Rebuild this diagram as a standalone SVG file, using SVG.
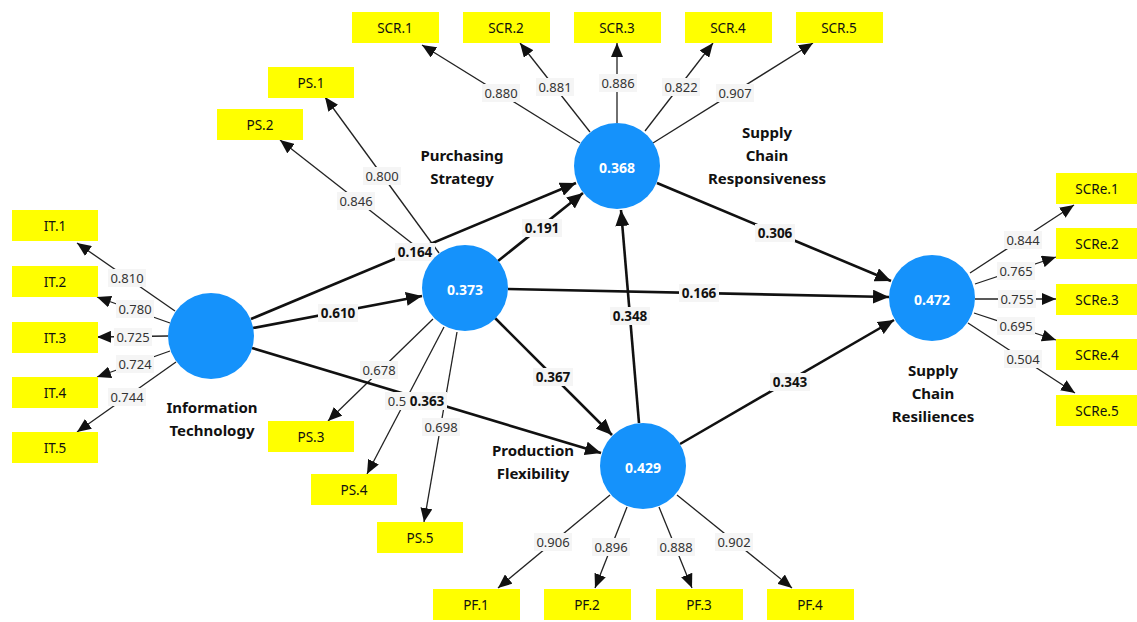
<svg xmlns="http://www.w3.org/2000/svg" width="1137" height="622" viewBox="0 0 1137 622">
<style>
.bg{fill:#ffffff}
.ind rect{fill:#ffff00}
.ind text{font-family:"Noto Sans","Open Sans",sans-serif;font-size:13.5px;fill:#111;text-anchor:middle;dominant-baseline:central}
.lv circle{fill:#1592fb}
.lv .v{font-family:"Noto Sans","Open Sans",sans-serif;font-size:14px;font-weight:bold;fill:#fff;text-anchor:middle;dominant-baseline:central}
.lv .n{font-family:"Noto Sans","Open Sans",sans-serif;font-size:15px;font-weight:bold;fill:#111;text-anchor:middle;dominant-baseline:central}
.out{stroke:#222;stroke-width:1.3;fill:none;marker-end:url(#ah)}
.inn{stroke:#111;stroke-width:2.6;fill:none;marker-end:url(#ahb)}
.lb rect{fill:#f5f5f5}
.lb text{font-family:"Noto Sans","Open Sans",sans-serif;font-size:13px;fill:#333;text-anchor:middle;dominant-baseline:central}
.lbb rect{fill:#f5f5f5}
.lbb text{font-family:"Noto Sans","Open Sans",sans-serif;font-size:13.5px;font-weight:bold;fill:#111;text-anchor:middle;dominant-baseline:central}
</style>
<defs>
<marker id="ah" markerUnits="userSpaceOnUse" markerWidth="14" markerHeight="12" viewBox="0 0 14 12" refX="14" refY="6" orient="auto"><path d="M0,0 L14,6 L0,12 Z" fill="#111"/></marker>
<marker id="ahb" markerUnits="userSpaceOnUse" markerWidth="16" markerHeight="14" viewBox="0 0 16 14" refX="16" refY="7" orient="auto"><path d="M0,0 L16,7 L0,14 Z" fill="#111"/></marker>
</defs>
<rect class="bg" x="0" y="0" width="1137" height="622"/>

<g id="connectors">
<path class="out" d="M175,311 L77,243"/>
<path class="out" d="M170,323 L97,297"/>
<path class="out" d="M168,336 L97,337"/>
<path class="out" d="M170,351 L97,377"/>
<path class="out" d="M176,362 L77,432"/>
<path class="out" d="M580,143 L422,45"/>
<path class="out" d="M590,132 L520,43"/>
<path class="out" d="M617,123 L617,43"/>
<path class="out" d="M645,131 L713,43"/>
<path class="out" d="M653,143 L813,43"/>
<path class="out" d="M439,253 L325,97"/>
<path class="out" d="M432,259 L280,140"/>
<path class="out" d="M433,319 L328,421"/>
<path class="out" d="M444,327 L367,474"/>
<path class="out" d="M457,332 L424,522"/>
<path class="out" d="M610,495 L498,588"/>
<path class="out" d="M627,507 L595,588"/>
<path class="out" d="M659,507 L692,588"/>
<path class="out" d="M677,495 L792,588"/>
<path class="out" d="M970,273 L1074,205"/>
<path class="out" d="M975,284 L1056,257"/>
<path class="out" d="M975,299 L1056,299"/>
<path class="out" d="M974,313 L1056,340"/>
<path class="out" d="M968,323 L1075,393"/>
<path class="inn" d="M251,319 L576,183"/>
<path class="inn" d="M253,328 L422,296"/>
<path class="inn" d="M252,348 L601,453"/>
<path class="inn" d="M498,261 L583,193"/>
<path class="inn" d="M508,289 L889,297"/>
<path class="inn" d="M495,318 L612,435"/>
<path class="inn" d="M639,423 L621,210"/>
<path class="inn" d="M657,183 L891,281"/>
<path class="inn" d="M680,444 L894,320"/>
</g>

<g id="loadings">
<g class="lb"><rect x="108" y="269" width="38" height="18"/><text x="127" y="278">0.810</text></g>
<g class="lb"><rect x="116" y="300" width="38" height="18"/><text x="135" y="309">0.780</text></g>
<g class="lb"><rect x="114" y="328" width="38" height="18"/><text x="133" y="337">0.725</text></g>
<g class="lb"><rect x="116" y="355" width="38" height="18"/><text x="135" y="364">0.724</text></g>
<g class="lb"><rect x="108" y="388" width="38" height="18"/><text x="127" y="397">0.744</text></g>
<g class="lb"><rect x="482" y="84" width="38" height="18"/><text x="501" y="93">0.880</text></g>
<g class="lb"><rect x="536" y="78" width="38" height="18"/><text x="555" y="87">0.881</text></g>
<g class="lb"><rect x="599" y="74" width="38" height="18"/><text x="618" y="83">0.886</text></g>
<g class="lb"><rect x="662" y="78" width="38" height="18"/><text x="681" y="87">0.822</text></g>
<g class="lb"><rect x="716" y="84" width="38" height="18"/><text x="735" y="93">0.907</text></g>
<g class="lb"><rect x="363" y="167" width="38" height="18"/><text x="382" y="176">0.800</text></g>
<g class="lb"><rect x="337" y="192" width="38" height="18"/><text x="356" y="201">0.846</text></g>
<g class="lb"><rect x="360" y="361" width="38" height="18"/><text x="379" y="370">0.678</text></g>
<g class="lb"><rect x="385" y="392" width="38" height="18"/><text x="397" y="401">0.5</text></g>
<g class="lb"><rect x="422" y="418" width="38" height="18"/><text x="441" y="427">0.698</text></g>
<g class="lb"><rect x="534" y="533" width="38" height="18"/><text x="553" y="542">0.906</text></g>
<g class="lb"><rect x="592" y="538" width="38" height="18"/><text x="611" y="547">0.896</text></g>
<g class="lb"><rect x="657" y="538" width="38" height="18"/><text x="676" y="547">0.888</text></g>
<g class="lb"><rect x="715" y="533" width="38" height="18"/><text x="734" y="542">0.902</text></g>
<g class="lb"><rect x="1004" y="231" width="38" height="18"/><text x="1023" y="240">0.844</text></g>
<g class="lb"><rect x="997" y="262" width="38" height="18"/><text x="1016" y="271">0.765</text></g>
<g class="lb"><rect x="998" y="290" width="38" height="18"/><text x="1017" y="299">0.755</text></g>
<g class="lb"><rect x="997" y="317" width="38" height="18"/><text x="1016" y="326">0.695</text></g>
<g class="lb"><rect x="1004" y="350" width="38" height="18"/><text x="1023" y="359">0.504</text></g>
</g>

<g id="paths">
<g class="lbb"><rect x="395" y="243" width="40" height="18"/><text x="415" y="252">0.164</text></g>
<g class="lbb"><rect x="318" y="304" width="40" height="18"/><text x="338" y="313">0.610</text></g>
<g class="lbb"><rect x="407" y="392" width="40" height="18"/><text x="427" y="401">0.363</text></g>
<g class="lbb"><rect x="522" y="219" width="40" height="18"/><text x="542" y="228">0.191</text></g>
<g class="lbb"><rect x="679" y="284" width="40" height="18"/><text x="699" y="293">0.166</text></g>
<g class="lbb"><rect x="533" y="368" width="40" height="18"/><text x="553" y="377">0.367</text></g>
<g class="lbb"><rect x="610" y="307" width="40" height="18"/><text x="630" y="316">0.348</text></g>
<g class="lbb"><rect x="755" y="224" width="40" height="18"/><text x="775" y="233">0.306</text></g>
<g class="lbb"><rect x="770" y="373" width="40" height="18"/><text x="790" y="382">0.343</text></g>
</g>

<g id="IT" class="lv"><circle cx="211" cy="336" r="43"/><text class="n" x="212" y="407">Information</text><text class="n" x="212" y="430">Technology</text></g>
<g id="PS" class="lv"><circle cx="465" cy="288" r="43"/><text class="v" x="465" y="289">0.373</text><text class="n" x="462" y="155">Purchasing</text><text class="n" x="462" y="178">Strategy</text></g>
<g id="SCR" class="lv"><circle cx="617" cy="166" r="43"/><text class="v" x="617" y="167">0.368</text><text class="n" x="767" y="132">Supply</text><text class="n" x="767" y="155">Chain</text><text class="n" x="767" y="178">Responsiveness</text></g>
<g id="PF" class="lv"><circle cx="643" cy="466" r="43"/><text class="v" x="643" y="467">0.429</text><text class="n" x="533" y="450">Production</text><text class="n" x="533" y="473">Flexibility</text></g>
<g id="SCRe" class="lv"><circle cx="932" cy="298" r="43"/><text class="v" x="932" y="299">0.472</text><text class="n" x="933" y="370">Supply</text><text class="n" x="933" y="393">Chain</text><text class="n" x="933" y="416">Resiliences</text></g>

<g id="IT1" class="ind"><rect x="12" y="210" width="86" height="31"/><text x="55" y="226">IT.1</text></g>
<g id="IT2" class="ind"><rect x="12" y="266" width="86" height="31"/><text x="55" y="282">IT.2</text></g>
<g id="IT3" class="ind"><rect x="12" y="322" width="86" height="31"/><text x="55" y="338">IT.3</text></g>
<g id="IT4" class="ind"><rect x="12" y="377" width="86" height="31"/><text x="55" y="393">IT.4</text></g>
<g id="IT5" class="ind"><rect x="12" y="432" width="86" height="31"/><text x="55" y="448">IT.5</text></g>
<g id="PS1" class="ind"><rect x="268" y="67" width="86" height="31"/><text x="311" y="83">PS.1</text></g>
<g id="PS2" class="ind"><rect x="217" y="109" width="86" height="31"/><text x="260" y="125">PS.2</text></g>
<g id="PS3" class="ind"><rect x="268" y="421" width="86" height="31"/><text x="311" y="437">PS.3</text></g>
<g id="PS4" class="ind"><rect x="311" y="474" width="86" height="31"/><text x="354" y="490">PS.4</text></g>
<g id="PS5" class="ind"><rect x="377" y="522" width="86" height="31"/><text x="420" y="538">PS.5</text></g>
<g id="SCR1" class="ind"><rect x="352" y="12" width="87" height="31"/><text x="395" y="28">SCR.1</text></g>
<g id="SCR2" class="ind"><rect x="463" y="12" width="87" height="31"/><text x="506" y="28">SCR.2</text></g>
<g id="SCR3" class="ind"><rect x="574" y="12" width="87" height="31"/><text x="617" y="28">SCR.3</text></g>
<g id="SCR4" class="ind"><rect x="685" y="12" width="87" height="31"/><text x="728" y="28">SCR.4</text></g>
<g id="SCR5" class="ind"><rect x="796" y="12" width="87" height="31"/><text x="839" y="28">SCR.5</text></g>
<g id="PF1" class="ind"><rect x="433" y="589" width="87" height="31"/><text x="476" y="605">PF.1</text></g>
<g id="PF2" class="ind"><rect x="544" y="589" width="87" height="31"/><text x="587" y="605">PF.2</text></g>
<g id="PF3" class="ind"><rect x="656" y="589" width="87" height="31"/><text x="699" y="605">PF.3</text></g>
<g id="PF4" class="ind"><rect x="767" y="589" width="87" height="31"/><text x="810" y="605">PF.4</text></g>
<g id="SCRe1" class="ind"><rect x="1056" y="173" width="83" height="31"/><text x="1097" y="189">SCRe.1</text></g>
<g id="SCRe2" class="ind"><rect x="1056" y="228" width="83" height="31"/><text x="1097" y="244">SCRe.2</text></g>
<g id="SCRe3" class="ind"><rect x="1056" y="284" width="83" height="31"/><text x="1097" y="300">SCRe.3</text></g>
<g id="SCRe4" class="ind"><rect x="1056" y="339" width="83" height="31"/><text x="1097" y="355">SCRe.4</text></g>
<g id="SCRe5" class="ind"><rect x="1056" y="395" width="83" height="31"/><text x="1097" y="411">SCRe.5</text></g>
</svg>
